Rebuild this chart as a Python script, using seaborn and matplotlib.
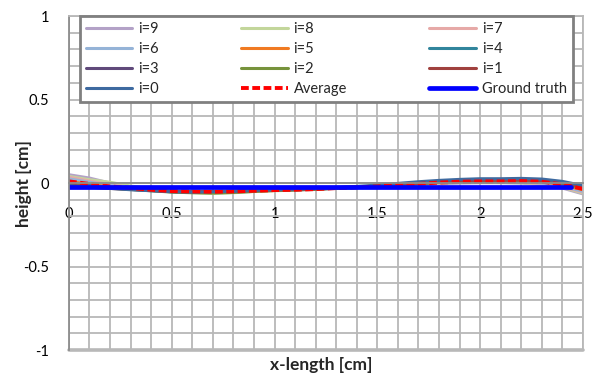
import numpy as np
import matplotlib
matplotlib.use("Agg")
import matplotlib.pyplot as plt
import seaborn as sns

# ==============================
# DATA
# ==============================
x_pos = [0.0, 0.1, 0.2, 0.3, 0.4, 0.5, 0.6, 0.7, 0.8, 0.9, 1.0, 1.1, 1.2,
         1.3, 1.4, 1.5, 1.6, 1.7, 1.8, 1.9, 2.0, 2.1, 2.2, 2.3, 2.4, 2.5]

run_9 = [0.050, 0.030, 0.000, -0.022, -0.036, -0.046, -0.052, -0.056, -0.054, -0.050, -0.044, -0.042, -0.038,
         -0.032, -0.028, -0.022, -0.016, -0.010, -0.004, 0.000, 0.002, 0.002, 0.000, -0.010, -0.030, -0.065]
run_8 = [0.040, 0.020, 0.005, -0.018, -0.034, -0.048, -0.056, -0.062, -0.058, -0.050, -0.046, -0.042, -0.038,
         -0.030, -0.026, -0.020, -0.014, -0.008, 0.000, 0.004, 0.006, 0.004, 0.002, -0.006, -0.025, -0.060]
run_7 = [0.035, 0.012, -0.010, -0.026, -0.038, -0.046, -0.050, -0.054, -0.050, -0.048, -0.044, -0.040, -0.036,
         -0.030, -0.026, -0.020, -0.012, -0.006, 0.002, 0.006, 0.008, 0.006, 0.004, -0.004, -0.022, -0.055]
run_6 = [0.025, 0.005, -0.015, -0.028, -0.040, -0.050, -0.054, -0.056, -0.052, -0.046, -0.042, -0.040, -0.036,
         -0.032, -0.026, -0.020, -0.012, -0.004, 0.004, 0.008, 0.010, 0.010, 0.008, 0.000, -0.018, -0.050]
run_5 = [0.010, -0.008, -0.022, -0.032, -0.042, -0.050, -0.052, -0.050, -0.050, -0.048, -0.044, -0.040, -0.036,
         -0.030, -0.026, -0.020, -0.012, -0.004, 0.004, 0.010, 0.012, 0.012, 0.014, 0.008, -0.010, -0.040]
run_4 = [0.000, -0.015, -0.026, -0.034, -0.042, -0.050, -0.052, -0.054, -0.050, -0.046, -0.042, -0.040, -0.036,
         -0.030, -0.026, -0.018, -0.010, -0.002, 0.006, 0.012, 0.014, 0.014, 0.016, 0.012, -0.002, -0.028]
run_3 = [-0.005, -0.018, -0.028, -0.036, -0.044, -0.052, -0.056, -0.054, -0.052, -0.046, -0.040, -0.038, -0.034,
         -0.028, -0.024, -0.018, -0.010, -0.002, 0.006, 0.012, 0.014, 0.016, 0.018, 0.014, 0.002, -0.025]
run_2 = [-0.010, -0.022, -0.030, -0.038, -0.046, -0.054, -0.058, -0.060, -0.056, -0.050, -0.044, -0.040, -0.036,
         -0.030, -0.026, -0.020, -0.012, -0.004, 0.004, 0.010, 0.012, 0.014, 0.016, 0.012, 0.000, -0.030]
run_1 = [-0.012, -0.024, -0.032, -0.038, -0.044, -0.050, -0.052, -0.050, -0.048, -0.044, -0.040, -0.038, -0.034,
         -0.028, -0.024, -0.018, -0.010, -0.002, 0.008, 0.014, 0.016, 0.016, 0.018, 0.014, 0.002, -0.022]
run_0 = [-0.015, -0.025, -0.032, -0.040, -0.046, -0.052, -0.054, -0.052, -0.050, -0.044, -0.040, -0.036, -0.032,
         -0.026, -0.020, -0.012, -0.002, 0.008, 0.016, 0.022, 0.026, 0.026, 0.028, 0.024, 0.010, -0.015]

average = [0.010, -0.005, -0.020, -0.030, -0.040, -0.048, -0.050, -0.052, -0.050, -0.046, -0.042, -0.040, -0.036,
           -0.030, -0.026, -0.020, -0.012, -0.005, 0.003, 0.008, 0.010, 0.010, 0.012, 0.008, -0.008, -0.035]

truth_x = [0.0, 2.44]
truth_y = [-0.025, -0.025]

run_labels = ["i=9", "i=8", "i=7", "i=6", "i=5", "i=4", "i=3", "i=2", "i=1", "i=0"]
run_values = [run_9, run_8, run_7, run_6, run_5, run_4, run_3, run_2, run_1, run_0]
run_colors = ["#b3a2c7", "#c3d69b", "#e6a9a7", "#95b3d7", "#f07a22",
              "#31859c", "#604a7b", "#77933c", "#a0413e", "#3e6aa0"]

# ==============================
# STYLE
# ==============================
sns.set_style("white")
plt.rcParams["font.family"] = ["Lato", "DejaVu Sans"]
grid_col = "#b8b8b8"
axis_col = "#8c8c8c"

fig = plt.figure(figsize=(5.94, 3.81), dpi=100)
ax = fig.add_axes([0.116, 0.081, 0.8655, 0.877])

# ==============================
# LINES
# ==============================
for lab, vals, col in zip(run_labels, run_values, run_colors):
    sns.lineplot(x=x_pos, y=vals, color=col, lw=2.2, label=lab, ax=ax)

sns.lineplot(x=x_pos, y=average, color="#ff0000", lw=2.8, label="Average",
             linestyle=(0, (2.0, 0.9)), ax=ax)
sns.lineplot(x=truth_x, y=truth_y, color="#0000ff", lw=3.4, label="Ground truth", ax=ax)

# ==============================
# AXES
# ==============================
ax.set_xlim(0, 2.5)
ax.set_ylim(-1, 1)
ax.set_xticks([0, 0.5, 1, 1.5, 2, 2.5])
ax.set_xticklabels(["0", "0.5", "1", "1.5", "2", "2.5"])
ax.set_yticks([-1, -0.5, 0, 0.5, 1])
ax.set_yticklabels(["-1", "-0.5", "0", "0.5", "1"])
ax.set_xticks(np.round(np.arange(0, 2.51, 0.1), 2), minor=True)
ax.set_yticks(np.round(np.arange(-1, 1.01, 0.1), 2), minor=True)
ax.grid(which="both", color=grid_col, lw=1.3)
ax.set_axisbelow(True)

ax.spines["bottom"].set_position(("data", 0))
for s in ["left", "bottom"]:
    ax.spines[s].set_color(axis_col)
    ax.spines[s].set_linewidth(1.3)
for s in ["top", "right"]:
    ax.spines[s].set_color(grid_col)
    ax.spines[s].set_linewidth(1.3)
ax.axhline(-1, color=grid_col, lw=2.6, clip_on=False, zorder=0)

ax.tick_params(axis="both", which="major", direction="out", length=4,
               color=axis_col, width=1.3, labelsize=10.5, labelcolor="black")
ax.tick_params(axis="both", which="minor", length=0)
ax.tick_params(axis="x", which="major", length=0, pad=17)
ax.tick_params(axis="y", which="major", pad=10)

ax.set_xlabel("x-length [cm]", fontsize=12.5, fontweight="bold")
ax.xaxis.set_label_coords(0.49, -0.02)
ax.set_ylabel("height [cm]", fontsize=12.5, fontweight="bold")
ax.yaxis.set_label_coords(-0.072, 0.5)

# legend: row-wise order like the reference (matplotlib fills by column)
handles, labels = ax.get_legend_handles_labels()
order = [0, 3, 6, 9, 1, 4, 7, 10, 2, 5, 8, 11]
leg = ax.legend([handles[k] for k in order], [labels[k] for k in order],
                ncol=3, loc="upper left", bbox_to_anchor=(0.021, 1.0, 0.959, 0.0),
                mode="expand", fontsize=10.5, handlelength=3.2, handletextpad=0.4,
                labelspacing=0.42, borderpad=0.4, fancybox=False, framealpha=1,
                edgecolor="#808080", borderaxespad=0)
leg.get_frame().set_linewidth(2)

fig.savefig("out.png", dpi=100)
